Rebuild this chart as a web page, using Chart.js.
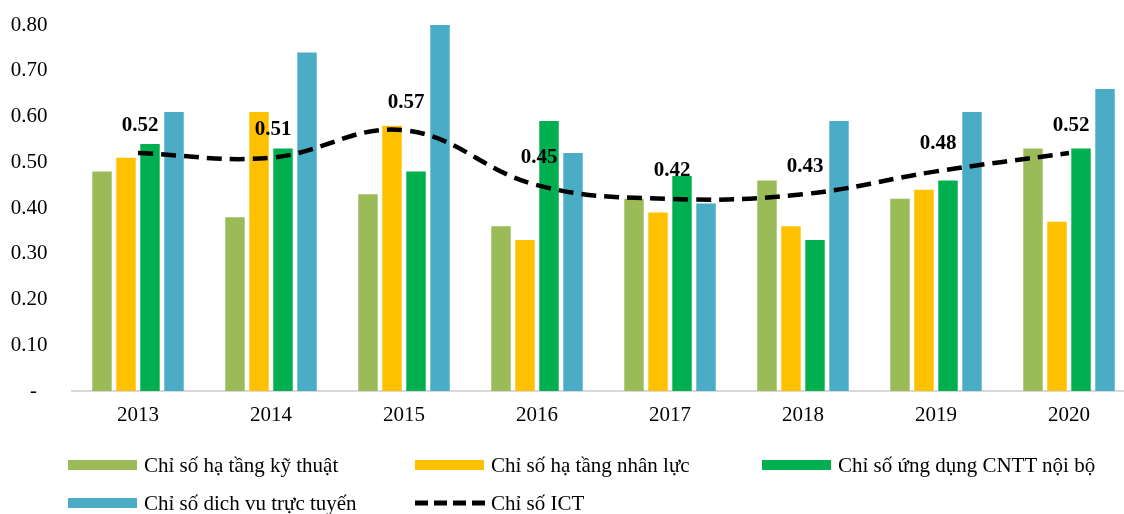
<!DOCTYPE html>
<html>
<head>
<meta charset="utf-8">
<script src="https://cdn.jsdelivr.net/npm/chart.js@4/dist/chart.umd.min.js"></script>
<style>
  html, body { margin: 0; padding: 0; background: #fff; overflow: hidden; width: 1124px; height: 514px; }
  #wrap { position: absolute; left: 0; top: 0; width: 1140px; height: 432px; }
  #legend { position: absolute; left: 0; top: 0; width: 1124px; height: 514px; pointer-events: none;
            font-family: "Liberation Serif", "Times New Roman", serif; font-size: 21px; color: #000; }
  .item { position: absolute; display: flex; align-items: center; height: 30px; white-space: nowrap; }
  .sw { width: 69px; height: 10px; margin-right: 7px; }
</style>
</head>
<body>
<div id="wrap"><canvas id="c" width="1140" height="432"></canvas></div>
<div id="legend"></div>
<script>
const categories = ['2013', '2014', '2015', '2016', '2017', '2018', '2019', '2020'];
const haTangKyThuat = [0.48, 0.38, 0.43, 0.36, 0.42, 0.46, 0.42, 0.53];
const haTangNhanLuc = [0.51, 0.61, 0.58, 0.33, 0.39, 0.36, 0.44, 0.37];
const ungDungNoiBo = [0.54, 0.53, 0.48, 0.59, 0.47, 0.33, 0.46, 0.53];
const dichVuTrucTuyen = [0.61, 0.74, 0.80, 0.52, 0.41, 0.59, 0.61, 0.66];
const chiSoICT = [0.52, 0.51, 0.57, 0.45, 0.42, 0.43, 0.48, 0.52];
const yTicks = [0, 0.1, 0.2, 0.3, 0.4, 0.5, 0.6, 0.7, 0.8];

const FONT = '"Liberation Serif", "Times New Roman", serif';

const barBase = { type: 'bar', order: 1, categoryPercentage: 0.722, barPercentage: 0.81, borderWidth: 0 };

const datasets = [
  { label: 'Chỉ số ICT', type: 'line', order: 0, data: chiSoICT, borderColor: '#000', borderWidth: 4.5,
    borderDash: [15, 8], tension: 0.4, pointRadius: 0, fill: false, backgroundColor: '#000' },
  Object.assign({ label: 'Chỉ số hạ tầng kỹ thuật', data: haTangKyThuat, backgroundColor: '#9BBB59' }, barBase),
  Object.assign({ label: 'Chỉ số hạ tầng nhân lực', data: haTangNhanLuc, backgroundColor: '#FFC000' }, barBase),
  Object.assign({ label: 'Chỉ số ứng dụng CNTT nội bộ', data: ungDungNoiBo, backgroundColor: '#00B050' }, barBase),
  Object.assign({ label: 'Chỉ số dich vu trực tuyến', data: dichVuTrucTuyen, backgroundColor: '#4BACC6' }, barBase)
];

const lineLabels = {
  id: 'lineLabels',
  afterDatasetsDraw(chart) {
    const ctx = chart.ctx;
    const meta = chart.getDatasetMeta(0);
    ctx.save();
    ctx.font = 'bold 21px ' + FONT;
    ctx.fillStyle = '#000';
    ctx.textAlign = 'center';
    ctx.textBaseline = 'middle';
    meta.data.forEach((pt, i) => {
      ctx.fillText(chart.data.datasets[0].data[i].toFixed(2), pt.x + 2, pt.y - 28);
    });
    ctx.restore();
  }
};

const chart = new Chart(document.getElementById('c'), {
  data: { labels: categories, datasets },
  options: {
    responsive: false,
    animation: false,
    devicePixelRatio: 1,
    layout: { padding: { left: 10.5, right: 4.5, top: 25, bottom: 4 } },
    plugins: { legend: { display: false }, tooltip: { enabled: false } },
    scales: {
      x: {
        grid: { display: false, drawTicks: false },
        border: { display: true, color: '#d9d9d9', width: 2 },
        ticks: { color: '#000', font: { family: FONT, size: 21 }, padding: 12 },
        afterFit(scale) { scale.height = 37; }
      },
      y: {
        min: 0, max: 0.8,
        afterBuildTicks(scale) { scale.ticks = yTicks.map(v => ({ value: v })); },
        grid: { display: false, drawTicks: false },
        border: { display: false },
        ticks: {
          color: '#000', font: { family: FONT, size: 21 }, padding: 24,
          callback: v => v === 0 ? '-  ' : v.toFixed(2)
        },
        afterFit(scale) { scale.width = 61; scale.paddingTop = 0; scale.paddingBottom = 0; }
      }
    }
  },
  plugins: [lineLabels]
});

// HTML legend built from the chart's datasets
const legendPos = [
  { ds: 1, left: 68, top: 450 },
  { ds: 2, left: 415, top: 450 },
  { ds: 3, left: 762, top: 450 },
  { ds: 4, left: 68, top: 488 },
  { ds: 0, left: 415, top: 488 }
];
const legend = document.getElementById('legend');
legendPos.forEach(p => {
  const d = chart.data.datasets[p.ds];
  const item = document.createElement('div');
  item.className = 'item';
  item.style.left = p.left + 'px';
  item.style.top = p.top + 'px';
  if (d.type === 'line') {
    const ns = 'http://www.w3.org/2000/svg';
    const svg = document.createElementNS(ns, 'svg');
    svg.setAttribute('width', '70'); svg.setAttribute('height', '10');
    svg.style.marginRight = '6px';
    const ln = document.createElementNS(ns, 'line');
    ln.setAttribute('x1', '0'); ln.setAttribute('y1', '5'); ln.setAttribute('x2', '70'); ln.setAttribute('y2', '5');
    ln.setAttribute('stroke', d.borderColor); ln.setAttribute('stroke-width', '5');
    ln.setAttribute('stroke-dasharray', '13 6');
    svg.appendChild(ln);
    item.appendChild(svg);
  } else {
    const sw = document.createElement('div');
    sw.className = 'sw';
    sw.style.background = d.backgroundColor;
    item.appendChild(sw);
  }
  const t = document.createElement('span');
  t.textContent = d.label;
  item.appendChild(t);
  legend.appendChild(item);
});
</script>
</body>
</html>
